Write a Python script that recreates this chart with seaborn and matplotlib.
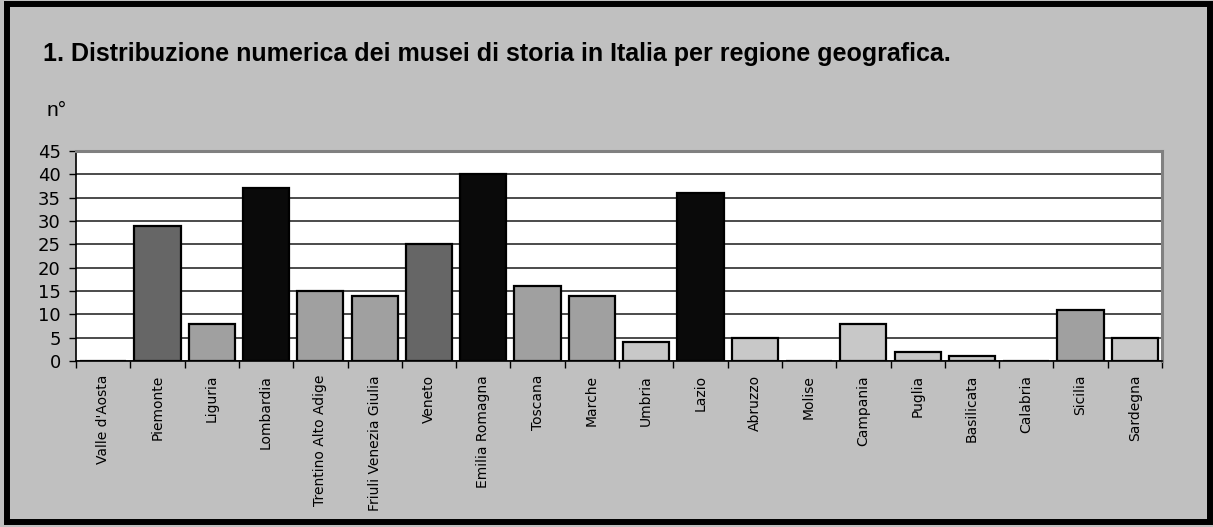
import matplotlib
matplotlib.use("Agg")
import matplotlib.pyplot as plt
import seaborn as sns
import pandas as pd
from matplotlib.patches import Rectangle
from matplotlib.ticker import FixedLocator, NullFormatter

regions = ["Valle d'Aosta", "Piemonte", "Liguria", "Lombardia", "Trentino Alto Adige",
           "Friuli Venezia Giulia", "Veneto", "Emilia Romagna", "Toscana", "Marche",
           "Umbria", "Lazio", "Abruzzo", "Molise", "Campania", "Puglia", "Basilicata",
           "Calabria", "Sicilia", "Sardegna"]
values = [0, 29, 8, 37, 15, 14, 25, 40, 16, 14, 4, 36, 5, 0, 8, 2, 1, 0, 11, 5]
bar_colors = ["#c8c8c8", "#666666", "#a0a0a0", "#0a0a0a", "#a0a0a0",
              "#a0a0a0", "#666666", "#0a0a0a", "#a0a0a0", "#a0a0a0",
              "#c8c8c8", "#0a0a0a", "#c8c8c8", "#c8c8c8", "#c8c8c8", "#c8c8c8", "#c8c8c8",
              "#c8c8c8", "#a0a0a0", "#c8c8c8"]
yticks = [0, 5, 10, 15, 20, 25, 30, 35, 40, 45]

title = "1. Distribuzione numerica dei musei di storia in Italia per regione geografica."
unit_label = "n°"

df = pd.DataFrame({"regione": regions, "n": values})

sns.set_theme(style="white")
plt.rcParams["font.family"] = ["DejaVu Sans"]
plt.rcParams["text.color"] = "black"
plt.rcParams["xtick.color"] = "black"
plt.rcParams["ytick.color"] = "black"

W, H = 1213, 527
fig = plt.figure(figsize=(W / 100, H / 100), dpi=100, facecolor="#c0c0c0")
ax = fig.add_axes([76 / W, 1 - 361 / H, (1162 - 76) / W, (361 - 151) / H])
ax.set_facecolor("white")

sns.barplot(data=df, x="regione", y="n", hue="regione", palette=dict(zip(regions, bar_colors)),
            legend=False, width=0.85, edgecolor="black", linewidth=1.6, ax=ax, zorder=3)

ax.set_ylim(0, 45)
ax.set_xlim(-0.5, len(regions) - 0.5)
ax.set_yticks(yticks)
ax.set_yticklabels([str(v) for v in yticks], fontsize=13, color="black")
ax.yaxis.grid(True, color="#1a1a1a", linewidth=1.1, zorder=0)
ax.set_axisbelow(True)
ax.set_xlabel("")
ax.set_ylabel("")

ax.set_xticks(range(len(regions)))
ax.set_xticklabels(regions, rotation=90, fontsize=10, va="top", color="black")
ax.tick_params(axis="x", which="major", length=0, pad=10)
ax.xaxis.set_minor_locator(FixedLocator([i - 0.5 for i in range(len(regions) + 1)]))
ax.xaxis.set_minor_formatter(NullFormatter())
ax.tick_params(axis="x", which="minor", length=5, width=1, color="black", bottom=True)
ax.tick_params(axis="y", which="major", length=5, width=1, color="black", left=True, pad=6)

for s in ["left", "bottom"]:
    ax.spines[s].set_color("black")
    ax.spines[s].set_linewidth(1.2)
for s in ["top", "right"]:
    ax.spines[s].set_color("#808080")
    ax.spines[s].set_linewidth(2.2)

fig.text(43 / W, 1 - 61 / H, title, fontsize=18, fontweight="bold",
         family=["Liberation Sans"], ha="left", va="baseline", color="black")
fig.text(47 / W, 1 - 116 / H, unit_label, fontsize=15, family=["Liberation Sans"],
         ha="left", va="baseline", color="black")

fig.patches.append(Rectangle((7 / W, 5 / H), (1210 - 7) / W, (523 - 5) / H,
                             transform=fig.transFigure, fill=False,
                             edgecolor="black", linewidth=4.3, zorder=10))

fig.savefig("out.png", dpi=100, facecolor=fig.get_facecolor())
